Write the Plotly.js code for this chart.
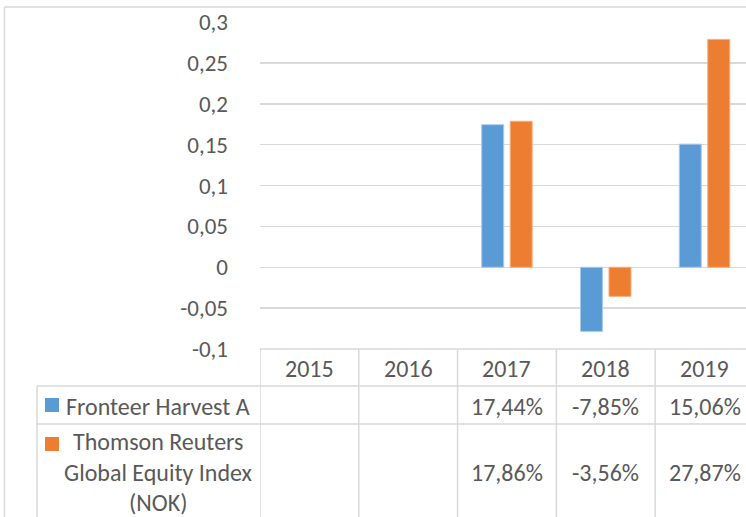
<!DOCTYPE html>
<html>
<head>
<meta charset="utf-8">
<script src="https://cdn.plot.ly/plotly-3.0.1.min.js"></script>
<style>
html,body{margin:0;padding:0;background:#fff;overflow:hidden;}
#chart{width:746px;height:517px;}
</style>
</head>
<body>
<div id="chart"></div>
<script>
// ---- data ----
var years = ["2015", "2016", "2017", "2018", "2019"];
var seriesNames = ["Fronteer Harvest A", "Thomson Reuters Global Equity Index (NOK)"];
var seriesLabelLines = [["Fronteer Harvest A"], ["Thomson Reuters", "Global Equity Index", "(NOK)"]];
var fronteer = [null, null, 0.1744, -0.0785, 0.1506];
var thomson = [null, null, 0.1786, -0.0356, 0.2787];
var yTickVals = [-0.1, -0.05, 0, 0.05, 0.1, 0.15, 0.2, 0.25, 0.3];
var yTickText = ["-0,1", "-0,05", "0", "0,05", "0,1", "0,15", "0,2", "0,25", "0,3"];

var blue = "#5B9BD5", orange = "#ED7D31";
var txt = "#595959", grid = "#D9D9D9";
var FONT = "Carlito, Lato, 'Liberation Sans', sans-serif";
var FS = 24;

// layout geometry (pixels)
var W = 746, H = 517, L = 260, T = 22, B = 168;
var plotH = H - T - B;
function py(p) { return (H - B - p) / plotH; }        // pixel y -> paper y
function px(p) { return (p - L) / (W - L); }          // pixel x -> paper x

function fmtPct(v) {
  if (v === null) return "";
  return (v * 100).toFixed(2).replace(".", ",") + "%";
}

var traces = [
  {type: "bar", x: years, y: fronteer, name: seriesNames[0],
   marker: {color: blue, line: {color: "#A9CBEB", width: 1}}},
  {type: "bar", x: years, y: thomson, name: seriesNames[1],
   marker: {color: orange, line: {color: "#F3AE80", width: 1}}}
];

var shapes = [];
var annotations = [];
var lineStyle = {color: grid, width: 1.5};

// outer chart border (left + top)
shapes.push({type: "line", xref: "paper", yref: "paper", x0: px(4.5), x1: px(4.5), y0: py(7), y1: py(H + 5), line: lineStyle});
shapes.push({type: "line", xref: "paper", yref: "paper", x0: px(4.5), x1: 1.05, y0: py(7), y1: py(7), line: lineStyle});

// data table lines
var rowTop1 = 386, rowTop2 = 424, tableLeft = 37;
shapes.push({type: "line", xref: "paper", yref: "paper", x0: 0, x1: 1.05, y0: 0, y1: 0, line: lineStyle});
shapes.push({type: "line", xref: "paper", yref: "paper", x0: px(tableLeft), x1: 1.05, y0: py(rowTop1), y1: py(rowTop1), line: lineStyle});
shapes.push({type: "line", xref: "paper", yref: "paper", x0: px(tableLeft), x1: 1.05, y0: py(rowTop2), y1: py(rowTop2), line: lineStyle});
shapes.push({type: "line", xref: "paper", yref: "paper", x0: px(tableLeft), x1: px(tableLeft), y0: py(rowTop1), y1: py(H + 5), line: lineStyle});
for (var i = 0; i <= years.length; i++) {
  shapes.push({type: "line", xref: "x", yref: "paper", x0: i - 0.5, x1: i - 0.5, y0: 0, y1: py(H + 5), line: lineStyle});
}

// header (years)
years.forEach(function (yr, i) {
  annotations.push({xref: "x", yref: "paper", x: i, y: py(368), text: yr, showarrow: false,
    xanchor: "center", yanchor: "middle", font: {family: FONT, size: FS, color: txt}});
});

// row legend keys + labels + values
var seriesData = [fronteer, thomson];
var seriesColors = [blue, orange];
var keyY = [[398, 412], [437, 451]];
var labelY = [[406], [441, 472, 502]];
var valueY = [406, 472];
for (var s = 0; s < seriesData.length; s++) {
  shapes.push({type: "rect", xref: "paper", yref: "paper", x0: px(45), x1: px(59),
    y0: py(keyY[s][1]), y1: py(keyY[s][0]), fillcolor: seriesColors[s], line: {width: 0}});
  seriesLabelLines[s].forEach(function (ln, k) {
    annotations.push({xref: "paper", yref: "paper", x: px(158), y: py(labelY[s][k]), text: ln,
      showarrow: false, xanchor: "center", yanchor: "middle", font: {family: FONT, size: FS, color: txt}});
  });
  seriesData[s].forEach(function (v, i) {
    if (v === null) return;
    annotations.push({xref: "x", yref: "paper", x: i, y: py(valueY[s]), text: fmtPct(v),
      showarrow: false, xanchor: "center", yanchor: "middle", font: {family: FONT, size: FS, color: txt}});
  });
}

var layout = {
  width: W, height: H,
  margin: {l: L, r: 0, t: T, b: B, pad: 0},
  paper_bgcolor: "#fff", plot_bgcolor: "#fff",
  showlegend: false,
  barmode: "group", bargap: 0.423, bargroupgap: 0.228,
  font: {family: FONT, size: FS, color: txt},
  xaxis: {type: "category", range: [-0.5, 4.42], showticklabels: false, showgrid: false,
          zeroline: false, showline: false, ticks: "", fixedrange: true},
  yaxis: {range: [-0.1, 0.3], tickvals: yTickVals, ticktext: yTickText, showgrid: true,
          gridcolor: grid, gridwidth: 1.5, zeroline: false, showline: false, ticks: "",
          ticklabelstandoff: 31, tickfont: {family: FONT, size: 23, color: txt}, fixedrange: true},
  shapes: shapes,
  annotations: annotations
};

Plotly.newPlot("chart", traces, layout, {displayModeBar: false, staticPlot: true});
</script>
</body>
</html>
